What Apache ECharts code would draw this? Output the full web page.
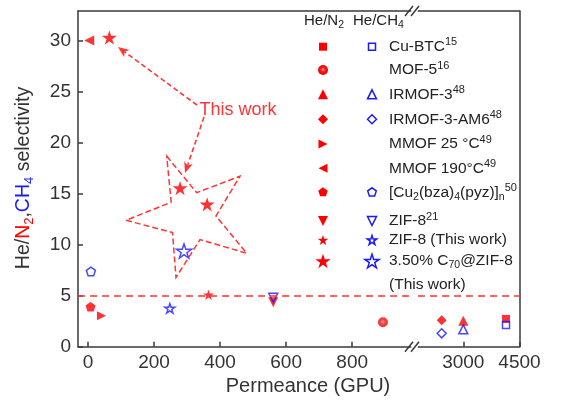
<!DOCTYPE html>
<html><head><meta charset="utf-8">
<script src="https://cdn.jsdelivr.net/npm/echarts@6/dist/echarts.min.js"></script>
<style>html,body{margin:0;padding:0;background:#fff}#c{width:577px;height:412px}</style>
</head><body><div id="c"></div>
<script>
// ---------- DATA ----------
const yTicks = [0, 5, 10, 15, 20, 25, 30];
const xTicksLeft = [0, 200, 400, 600, 800];
const xTicksRight = [3000, 4500];
const selectivityLimit = 5;
// He/N2 (red, filled)  [permeance GPU, selectivity]
const n2CuBTC    = [[4140, 2.72]];
const n2MOF5     = [[893, 2.39]];
const n2IRMOF3   = [[3000, 2.55]];
const n2IRMOF3AM6= [[2423, 2.6]];
const n2MMOF25   = [[41, 3.04]];
const n2MMOF190  = [[4, 30.0]];
const n2Cu2      = [[8, 3.92]];
const n2ZIF8lit  = [[561, 4.35]];
const n2ZIF8this = [[365, 5.1]];
const n2C70ZIF8  = [[65, 30.3], [279, 15.55], [361, 13.96]];
// He/CH4 (blue, hollow)
const ch4CuBTC    = [[4140, 2.13]];
const ch4IRMOF3   = [[3000, 1.7]];
const ch4IRMOF3AM6= [[2423, 1.31]];
const ch4Cu2      = [[9, 7.38]];
const ch4ZIF8lit  = [[561, 4.8]];
const ch4ZIF8this = [[248, 3.76]];
const ch4C70ZIF8  = [[291, 9.38]];
// legend labels
const legendHeaders = ['He/N{b|2}', 'He/CH{b|4}'];
const legendLabels = [
  'Cu-BTC{p|15}', 'MOF-5{p|16}', 'IRMOF-3{p|48}', 'IRMOF-3-AM6{p|48}',
  'MMOF 25 °C{p|49}', 'MMOF 190°C{p|49}', '[Cu{b|2}(bza){b|4}(pyz)]{b|n}{p|50}',
  'ZIF-8{p|21}', 'ZIF-8 (This work)', '3.50% C{b|70}@ZIF-8', '(This work)'
];
const annotationText = 'This work';

// ---------- STYLE ----------
const RED = '#ff0000', BLUE = '#1a1aff', ARED = '#ff3535', AX = '#3a3a3a';
const FONT = '"Liberation Sans", Arial, sans-serif';
const STAR = 'path://M50,0L61.2,34.5L97.6,34.5L68.2,55.9L79.4,90.5L50,69.1L20.6,90.5L31.8,55.9L2.4,34.5L38.8,34.5Z';
const PENT = 'path://M50,0L97.6,34.5L79.4,90.5L20.6,90.5L2.4,34.5Z';
const YMAX = 32.9;

const chart = echarts.init(document.getElementById('c'), null, {renderer: 'canvas'});

function xBottom(gi, min, max, ticks) {
  return {type: 'value', gridIndex: gi, min, max, position: 'bottom',
    axisLine: {show: true, onZero: false, lineStyle: {color: AX, width: 1.5}},
    axisTick: {show: true, inside: true, length: 5, customValues: ticks, lineStyle: {color: AX, width: 1.5}},
    axisLabel: {show: true, customValues: ticks, color: '#333', fontSize: 19, fontFamily: FONT, margin: 7,
      formatter: v => String(v)},
    splitLine: {show: false}};
}
function xTop(gi, min, max) {
  return {type: 'value', gridIndex: gi, min, max, position: 'top',
    axisLine: {show: true, onZero: false, lineStyle: {color: AX, width: 1.5}},
    axisTick: {show: false}, axisLabel: {show: false}, splitLine: {show: false}};
}
function sc(name, data, g, symbol, size, filled, extra) {
  return Object.assign({
    type: 'scatter', name, data, xAxisIndex: g === 0 ? 0 : 2, yAxisIndex: g,
    symbol, symbolSize: size, symbolKeepAspect: true, z: filled ? 3 : 4,
    itemStyle: filled ? {color: RED} : {color: 'rgba(255,255,255,0)', borderColor: BLUE, borderWidth: 1.5},
    emphasis: {disabled: true}, silent: true
  }, extra || {});
}
const markLine = {silent: true, symbol: 'none', label: {show: false},
  lineStyle: {color: ARED, type: [7, 5], width: 1.5}, data: [{yAxis: selectivityLimit}]};

const mof5Fill = new echarts.graphic.RadialGradient(0.5, 0.45, 0.6, [
  {offset: 0, color: '#ff9a9a'}, {offset: 0.35, color: '#ff1a1a'}, {offset: 1, color: '#d00000'}]);

// ---------- legend graphics ----------
const rowsY = [46.7, 70, 94.3, 119.3, 144, 168.3, 192.3, 221, 240, 261, 285];
const colX = [323, 372], textX = 389;
function poly(type, cx, cy, s) {
  const pts = [];
  if (type === 'star' || type === 'pent') {
    const n = type === 'star' ? 10 : 5;
    for (let i = 0; i < n; i++) {
      const a = -Math.PI / 2 + i * 2 * Math.PI / n;
      const r = (type === 'star' && i % 2) ? s / 2 * 0.382 : s / 2;
      pts.push([cx + r * Math.cos(a), cy + r * Math.sin(a) + (type === 'star' ? s * 0.05 : 0)]);
    }
  } else if (type === 'up') pts.push([cx, cy - s / 2], [cx + s / 2, cy + s / 2], [cx - s / 2, cy + s / 2]);
  else if (type === 'down') pts.push([cx, cy + s / 2], [cx + s / 2, cy - s / 2], [cx - s / 2, cy - s / 2]);
  else if (type === 'left') pts.push([cx - s / 2, cy], [cx + s / 2, cy - s / 2], [cx + s / 2, cy + s / 2]);
  else if (type === 'right') pts.push([cx + s / 2, cy], [cx - s / 2, cy - s / 2], [cx - s / 2, cy + s / 2]);
  else if (type === 'diamond') pts.push([cx, cy - s / 2], [cx + s / 2, cy], [cx, cy + s / 2], [cx - s / 2, cy]);
  return pts;
}
function mk(type, cx, cy, s, filled) {
  const style = filled ? {fill: RED} : {fill: 'none', stroke: BLUE, lineWidth: 1.5};
  if (type === 'rect') return {type: 'rect', shape: {x: cx - s / 2, y: cy - s / 2, width: s, height: s}, style, z: 10};
  if (type === 'circle') return {type: 'circle', shape: {cx, cy, r: s / 2}, style: filled ? {fill: mof5Fill} : style, z: 10};
  return {type: 'polygon', shape: {points: poly(type, cx, cy, s)}, style, z: 10};
}
const legendMarks = [
  [0, 'rect', 8, true], [1, 'circle', 10, false], [2, 'up', 10, true], [3, 'diamond', 10, true],
  [4, 'right', 9, false], [5, 'left', 9, false], [6, 'pent', 10, true], [7, 'down', 10, true],
  [8, 'star', 11, true], [9, 'star', 16, true]
];
const graphics = [];
legendMarks.forEach(([r, t, s, b]) => {
  graphics.push(mk(t, colX[0], rowsY[r], s, true));
  if (b) graphics.push(mk(t, colX[1], rowsY[r], s - 1, false));
});
const rich = {
  p: {fontSize: 11, fontFamily: FONT, fill: '#222', verticalAlign: 'top', lineHeight: 9},
  b: {fontSize: 10.5, fontFamily: FONT, fill: '#222', verticalAlign: 'bottom', lineHeight: 10}
};
legendLabels.forEach((t, i) => {
  graphics.push({type: 'text', x: textX, y: rowsY[i], z: 10, style: {
    text: t, rich, fontSize: 15.5, fontFamily: FONT, fill: '#222', lineHeight: 20, verticalAlign: 'middle'}});
});
graphics.push({type: 'text', x: 304, y: 21, z: 10, style: {text: legendHeaders[0], rich, fontSize: 15, fontFamily: FONT, fill: '#222', lineHeight: 20, verticalAlign: 'middle'}});
graphics.push({type: 'text', x: 353, y: 21, z: 10, style: {text: legendHeaders[1], rich, fontSize: 15, fontFamily: FONT, fill: '#222', lineHeight: 20, verticalAlign: 'middle'}});

// axis titles
graphics.push({type: 'text', x: 308, y: 386, z: 10, style: {text: 'Permeance (GPU)', fontSize: 20, fontFamily: FONT, fill: '#333', align: 'center', verticalAlign: 'middle'}});
graphics.push({type: 'text', x: 24, y: 178, rotation: Math.PI / 2, z: 10, style: {
  text: '{k|He/}{r|N}{rs|2}{k|,}{u|CH}{us|4}{k| selectivity}', align: 'center', verticalAlign: 'middle',
  rich: {
    k: {fontSize: 19.5, fontFamily: FONT, fill: '#333', lineHeight: 24},
    r: {fontSize: 19.5, fontFamily: FONT, fill: RED, lineHeight: 24},
    u: {fontSize: 19.5, fontFamily: FONT, fill: BLUE, lineHeight: 24},
    rs: {fontSize: 13, fontFamily: FONT, fill: RED, verticalAlign: 'bottom', lineHeight: 12},
    us: {fontSize: 13, fontFamily: FONT, fill: BLUE, verticalAlign: 'bottom', lineHeight: 12}
  }}});

// axis-break marks
[11, 346.7].forEach(y => {
  [0, 6].forEach(dx => graphics.push({type: 'line', z: 12,
    shape: {x1: 405 + dx, y1: y + 5, x2: 413 + dx, y2: y - 5}, style: {stroke: AX, lineWidth: 1.5}}));
  graphics.push({type: 'rect', z: 11, shape: {x: 411.5, y: y - 1.5, width: 6, height: 3}, style: {fill: '#fff'}});
});

// annotation: "This work", arrows, dashed star outline
graphics.push({type: 'text', x: 238, y: 110, z: 10, style: {text: annotationText, fontSize: 18, fontFamily: FONT, fill: ARED, align: 'center', verticalAlign: 'middle'}});
function arrow(x1, y1, x2, y2) {
  const dx = x2 - x1, dy = y2 - y1, L = Math.hypot(dx, dy), ux = dx / L, uy = dy / L;
  const hl = 11, hw = 4.5, bx = x2 - ux * hl, by = y2 - uy * hl, px = -uy, py = ux;
  graphics.push({type: 'line', z: 9, shape: {x1, y1, x2: bx + ux * 3, y2: by + uy * 3}, style: {stroke: ARED, lineWidth: 1.6, lineDash: [5, 3]}});
  graphics.push({type: 'polygon', z: 9, shape: {points: [[x2, y2], [bx + px * hw, by + py * hw], [bx + ux * 3, by + uy * 3], [bx - px * hw, by - py * hw]]}, style: {fill: ARED}});
}
arrow(197, 105, 118, 47);
arrow(204, 117, 185, 173);
graphics.push({type: 'polygon', z: 9, shape: {points: [
  [166.7, 156.2], [196.7, 192.7], [240, 176.2], [216, 216], [246.7, 253.3],
  [200, 239.6], [176, 277.5], [172.5, 232.5], [126, 220.3], [171.2, 202.2]]},
  style: {fill: 'none', stroke: ARED, lineWidth: 1.5, lineDash: [6, 3]}});

const option = {
  animation: false,
  backgroundColor: '#fff',
  grid: [
    {left: 78, top: 11, width: 333, height: 335.7},
    {left: 418, top: 11, width: 101.5, height: 335.7}
  ],
  xAxis: [
    xBottom(0, -30, 978, xTicksLeft), xTop(0, -30, 978),
    xBottom(1, 1791, 4500, xTicksRight), xTop(1, 1791, 4500)
  ],
  yAxis: [
    {type: 'value', gridIndex: 0, min: 0, max: YMAX, position: 'left',
      axisLine: {show: true, onZero: false, lineStyle: {color: AX, width: 1.5}},
      axisTick: {show: true, inside: true, length: 5, customValues: yTicks, lineStyle: {color: AX, width: 1.5}},
      axisLabel: {show: true, customValues: yTicks, color: '#333', fontSize: 19, fontFamily: FONT, margin: 7},
      splitLine: {show: false}},
    {type: 'value', gridIndex: 1, min: 0, max: YMAX, position: 'right',
      axisLine: {show: true, onZero: false, lineStyle: {color: AX, width: 1.5}},
      axisTick: {show: false}, axisLabel: {show: false}, splitLine: {show: false}}
  ],
  series: [
    sc('MOF-5 N2', n2MOF5, 0, 'circle', 10, true, {itemStyle: {color: mof5Fill}, markLine}),
    sc('Cu-BTC N2', n2CuBTC, 1, 'rect', 8, true, {markLine}),
    sc('IRMOF-3 N2', n2IRMOF3, 1, 'triangle', 10, true),
    sc('IRMOF-3-AM6 N2', n2IRMOF3AM6, 1, 'diamond', 10, true),
    sc('MMOF 25 N2', n2MMOF25, 0, 'triangle', 9, true, {symbolRotate: -90}),
    sc('MMOF 190 N2', n2MMOF190, 0, 'triangle', 10, true, {symbolRotate: 90}),
    sc('Cu2 N2', n2Cu2, 0, PENT, 10, true),
    sc('ZIF-8 lit N2', n2ZIF8lit, 0, 'triangle', 10, true, {symbolRotate: 180}),
    sc('ZIF-8 this N2', n2ZIF8this, 0, STAR, 11, true),
    sc('C70 N2', n2C70ZIF8, 0, STAR, 15, true),
    sc('Cu-BTC CH4', ch4CuBTC, 1, 'rect', 7, false),
    sc('IRMOF-3 CH4', ch4IRMOF3, 1, 'triangle', 9, false),
    sc('IRMOF-3-AM6 CH4', ch4IRMOF3AM6, 1, 'diamond', 9, false),
    sc('Cu2 CH4', ch4Cu2, 0, PENT, 9, false),
    sc('ZIF-8 lit CH4', ch4ZIF8lit, 0, 'triangle', 9, false, {symbolRotate: 180}),
    sc('ZIF-8 this CH4', ch4ZIF8this, 0, STAR, 10, false),
    sc('C70 CH4', ch4C70ZIF8, 0, STAR, 15, false)
  ],
  graphic: graphics
};
chart.setOption(option);
</script>
</body></html>
